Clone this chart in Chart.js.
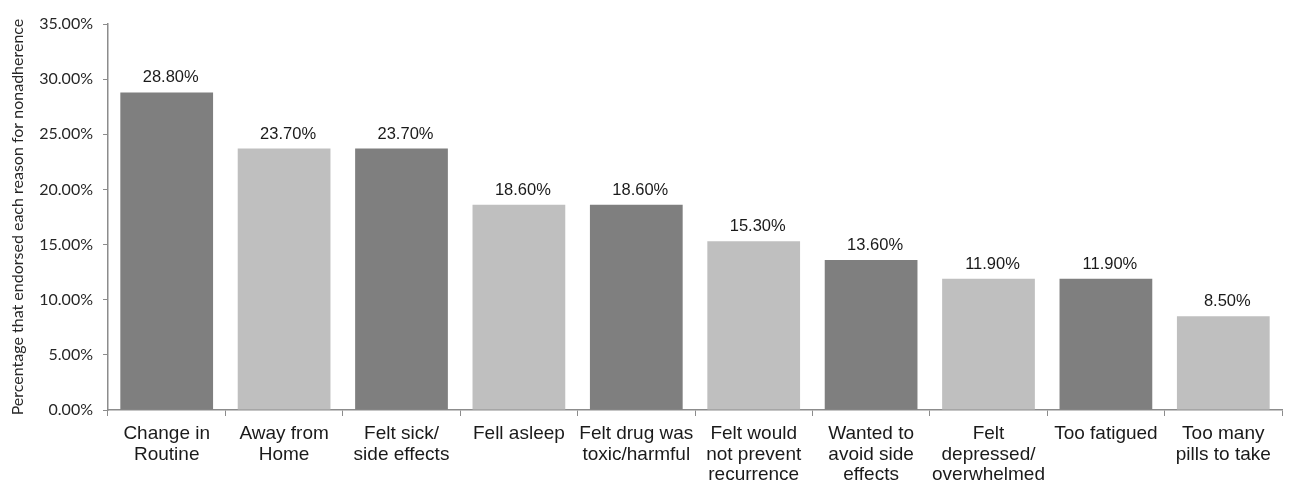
<!DOCTYPE html>
<html>
<head>
<meta charset="utf-8">
<script src="https://cdn.jsdelivr.net/npm/chart.js@4.4.1/dist/chart.umd.min.js"></script>
<style>
  html, body { margin: 0; padding: 0; background: #fff; }
  #wrap { width: 1293px; height: 494px; position: relative; }
</style>
</head>
<body>
<div id="wrap"><canvas id="c"></canvas></div>
<script>
// Reasons for nonadherence and share of respondents endorsing each
const categories = [
  ["Change in", "Routine"],
  ["Away from", "Home"],
  ["Felt sick/", "side effects"],
  ["Fell asleep"],
  ["Felt drug was", "toxic/harmful"],
  ["Felt would", "not prevent", "recurrence"],
  ["Wanted to", "avoid side", "effects"],
  ["Felt", "depressed/", "overwhelmed"],
  ["Too fatigued"],
  ["Too many", "pills to take"]
];
const percentages = [28.8, 23.7, 23.7, 18.6, 18.6, 15.3, 13.6, 11.9, 11.9, 8.5];
const barShades = ["#7f7f7f", "#bfbfbf", "#7f7f7f", "#bfbfbf", "#7f7f7f", "#bfbfbf", "#7f7f7f", "#bfbfbf", "#7f7f7f", "#bfbfbf"];
const yTicks = [0, 5, 10, 15, 20, 25, 30, 35];
const yTitle = "Percentage that endorsed each reason for nonadherence";

const fmt = v => v.toFixed(2) + "%";

// Writes each bar's value above it
const valueLabels = {
  id: "valueLabels",
  afterDatasetsDraw(chart) {
    const ctx = chart.ctx;
    const meta = chart.getDatasetMeta(0);
    ctx.save();
    ctx.font = "16.5px 'Liberation Sans', Arial, sans-serif";
    ctx.fillStyle = "#1a1a1a";
    ctx.textAlign = "center";
    ctx.textBaseline = "alphabetic";
    meta.data.forEach((bar, i) => {
      ctx.fillText(fmt(percentages[i]), bar.x + 4, bar.y - 10);
    });
    ctx.restore();
  }
};

new Chart(document.getElementById("c"), {
  type: "bar",
  data: {
    labels: categories,
    datasets: [{
      data: percentages,
      backgroundColor: barShades,
      borderWidth: 0,
      barPercentage: 0.79,
      categoryPercentage: 1.0
    }]
  },
  options: {
    responsive: true,
    maintainAspectRatio: false,
    animation: false,
    events: [],
    layout: { padding: { top: 24, right: 11, bottom: 0, left: 0 } },
    plugins: { legend: { display: false }, tooltip: { enabled: false } },
    scales: {
      x: {
        grid: { drawOnChartArea: false, drawTicks: true, tickLength: 6, color: "#8c8c8c", offset: true },
        border: { display: true, color: "#8c8c8c", width: 1.5 },
        ticks: {
          color: "#1a1a1a",
          font: { family: "'Liberation Sans', Arial, sans-serif", size: 19, lineHeight: 1.1 },
          maxRotation: 0, autoSkip: false, padding: 7
        },
        afterFit(scale) { scale.height = 84; }
      },
      y: {
        min: 0, max: 35,
        afterBuildTicks(scale) { scale.ticks = yTicks.map(v => ({ value: v })); },
        grid: { drawOnChartArea: false, drawTicks: true, tickLength: 5, color: "#8c8c8c" },
        border: { display: true, color: "#8c8c8c", width: 1.5 },
        ticks: {
          color: "#262626",
          font: { family: "Lato, 'Open Sans', sans-serif", size: 16 },
          padding: 10,
          callback: v => fmt(v)
        },
        title: {
          display: true, text: yTitle, color: "#262626",
          font: { family: "Lato, 'Open Sans', sans-serif", size: 16 },
          padding: { top: 8, bottom: 0 }
        },
        afterFit(scale) { scale.width = 108; }
      }
    }
  },
  plugins: [valueLabels]
});
</script>
</body>
</html>
